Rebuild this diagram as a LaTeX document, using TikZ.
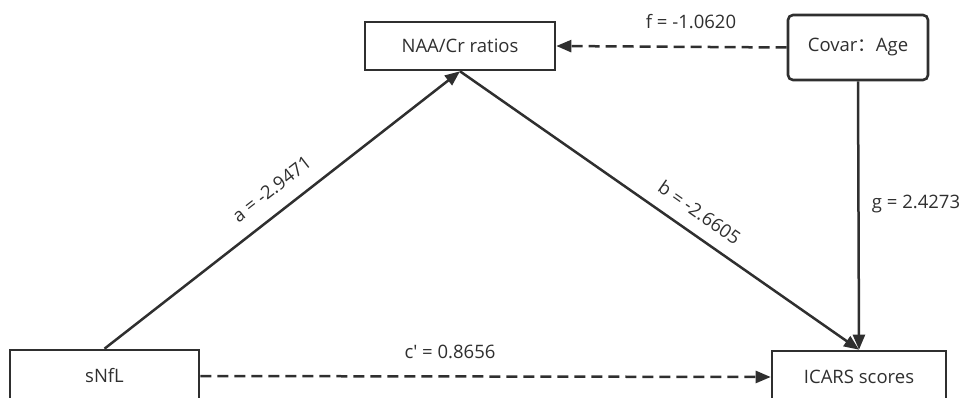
\documentclass[tikz,border=0pt]{standalone}
\usepackage{fontspec}
\setmainfont{Open Sans}[Ligatures=NoCommon]
\newfontfamily\cjkf{Noto Sans CJK SC}
\usetikzlibrary{arrows.meta}
\definecolor{ink}{HTML}{2F2F2F}
\begin{document}
\begin{tikzpicture}[x=1pt,y=-1pt,
  every node/.style={font=\fontsize{18.5}{20}\selectfont, text=ink},
  box/.style={draw=ink, line width=2.6pt, inner sep=0pt},
  conn/.style={draw=ink, line width=2.5pt, -{Triangle[length=15pt,width=12pt]}},
  dconn/.style={conn, dash pattern=on 11pt off 6pt},
  lbl/.style={inner sep=1pt}]
\useasboundingbox (0,0) rectangle (968,398);
\clip (0,0) rectangle (968,398);
\node[box, minimum width=190pt, minimum height=48pt] (naa) at (460,46) {NAA/Cr ratios};
\node[box, rounded corners=5pt, minimum width=140pt, minimum height=65pt] (cov) at (858,47.5) {Covar{\cjkf ：}Age};
\node[box, minimum width=189pt, minimum height=52pt] (snfl) at (104.5,376) {sNfL};
\node[box, minimum width=174pt, minimum height=52pt] (icars) at (859,377) {ICARS scores};
\draw[conn] (snfl.north) -- node[lbl, sloped, pos=0.51, above=14pt] (la) {a = -2.9471} (naa.south);
\draw[conn] (naa.south) -- node[lbl, sloped, pos=0.57, above=12pt] (lb) {b = -2.6605} (icars.north);
\draw[conn] (cov.south) -- (icars.north);
\draw[dconn] (cov.west) -- (naa.east);
\draw[dconn] (snfl.east) -- (icars.west);
\node[lbl] (lf) at (691,22) {f = -1.0620};
\node[lbl] (lg) at (916,204) {g = 2.4273};
\node[lbl] (lc) at (450,352) {c\textquotesingle{} = 0.8656};
\end{tikzpicture}
\end{document}
